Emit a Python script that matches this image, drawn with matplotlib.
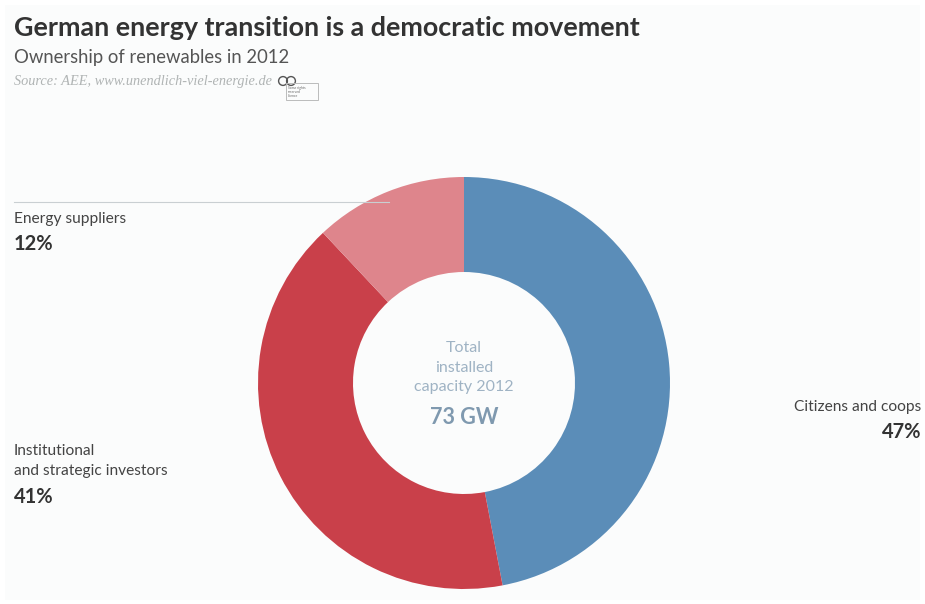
"""German energy transition donut: ownership of renewables in 2012."""

import matplotlib
matplotlib.use("Agg")
import matplotlib.pyplot as plt
from matplotlib.patches import Circle, Rectangle

W, H = 925, 604

# --- Data ---
labels = ["Citizens and coops", "Institutional\nand strategic investors", "Energy suppliers"]
shares = [47, 41, 12]
colors = ["#5b8db8", "#c9404a", "#de858c"]
total_gw = 73

plt.rcParams["font.family"] = ["Lato", "DejaVu Sans"]

fig = plt.figure(figsize=(W / 100, H / 100), dpi=100, facecolor="white")

# Full-figure overlay in pixel coordinates (y pointing down)
bg = fig.add_axes([0, 0, 1, 1])
bg.set_xlim(0, W)
bg.set_ylim(H, 0)
bg.axis("off")
bg.add_patch(Rectangle((5, 5), 915, 595, facecolor="#fbfcfc", edgecolor="none"))

# --- Donut ---
cx, cy, r_out, r_in = 464, 383, 206, 111
ax = fig.add_axes([(cx - r_out) / W, 1 - (cy + r_out) / H, 2 * r_out / W, 2 * r_out / H])
ax.pie(shares, colors=colors, startangle=90, counterclock=False, radius=1,
       wedgeprops={"width": 1 - r_in / r_out, "linewidth": 0})
ax.set_xlim(-1, 1)
ax.set_ylim(-1, 1)
ax.patch.set_alpha(0)

# Text overlay above the donut
top = fig.add_axes([0, 0, 1, 1])
top.set_xlim(0, W)
top.set_ylim(H, 0)
top.axis("off")
top.patch.set_alpha(0)

# --- Header ---
top.text(14, 28, "German energy transition is a democratic movement", fontsize=19.4,
         fontweight="bold", color="#333333", va="center", ha="left")
top.text(14, 57, "Ownership of renewables in 2012", fontsize=13.35, color="#555555",
         va="center", ha="left")
top.text(14, 82, "Source: AEE, www.unendlich-viel-energie.de", fontsize=10.3,
         family=["Liberation Serif", "DejaVu Serif"], style="italic", color="#b0b4b4",
         va="center", ha="left")

# Small licence badge next to the source
top.add_patch(Circle((283, 81), 4.4, fill=False, edgecolor="#555555", linewidth=1))
top.add_patch(Circle((291, 81), 4.4, fill=False, edgecolor="#555555", linewidth=1))
top.add_patch(Rectangle((286, 83), 32, 17, fill=False, edgecolor="#bbbbbb", linewidth=0.7))
top.text(288, 92, "Some rights\nreserved\nlicence", fontsize=2.4, color="#666666",
         va="center", ha="left", linespacing=1.1)

# --- Leader line ---
top.plot([14, 389], [202, 202], color="#c9cfd2", linewidth=0.8)

# --- Category labels ---
label_color = "#444444"
top.text(14, 219, labels[2], fontsize=11.15, color=label_color, va="center", ha="left")
top.text(14, 244, f"{shares[2]}%", fontsize=14.5, fontweight="bold", color="#333333",
         va="center", ha="left")

top.text(14, 461, labels[1], fontsize=11.15, color=label_color, va="center", ha="left",
         linespacing=1.5)
top.text(14, 497, f"{shares[1]}%", fontsize=14.5, fontweight="bold", color="#333333",
         va="center", ha="left")

top.text(921, 407, labels[0], fontsize=11.15, color=label_color, va="center", ha="right")
top.text(921, 432, f"{shares[0]}%", fontsize=14.5, fontweight="bold", color="#333333",
         va="center", ha="right")

# --- Centre text ---
centre_color = "#9fb3c4"
top.text(464, 368, "Total\ninstalled\ncapacity 2012", fontsize=11.5, color=centre_color,
         va="center", ha="center", linespacing=1.5)
top.text(464, 418, f"{total_gw} GW", fontsize=15.5, fontweight="bold", color="#7f99af",
         va="center", ha="center")

fig.savefig("out.png", dpi=100)
plt.close(fig)
